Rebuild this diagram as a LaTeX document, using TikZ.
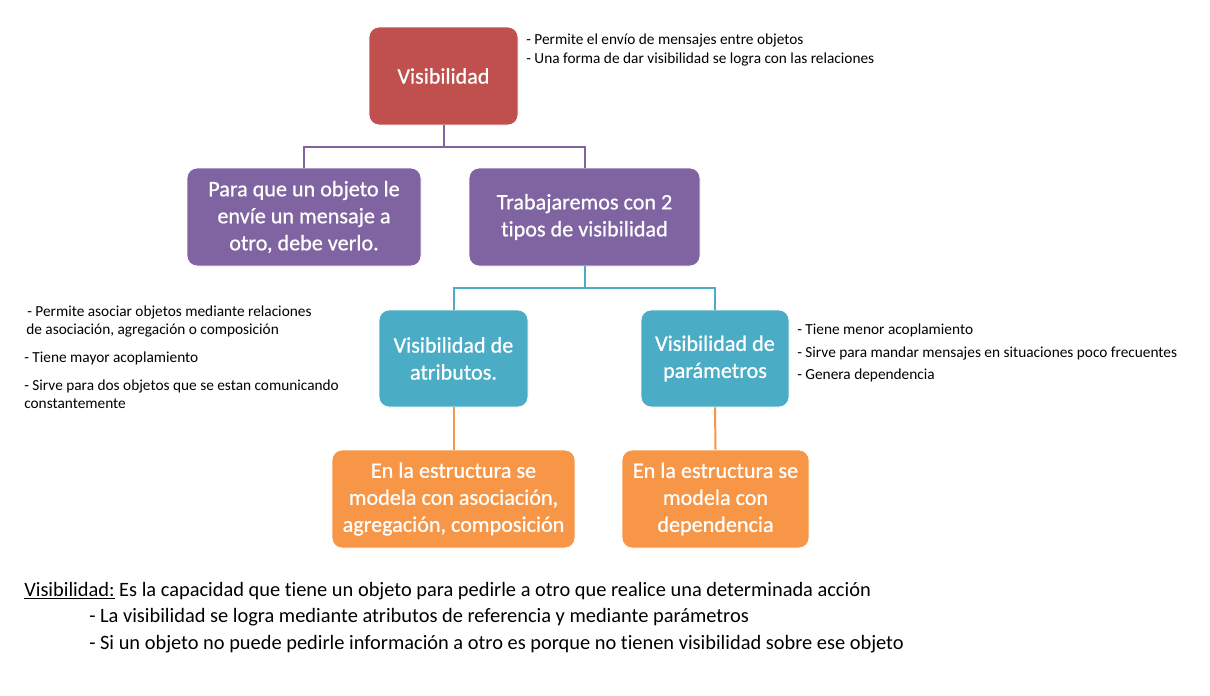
\documentclass[tikz,border=0pt]{standalone}
\usepackage{fontspec}
\setmainfont{Carlito}[Ligatures={NoCommon}]
\newfontfamily\boxfont{Carlito}[Ligatures={NoCommon},FakeBold=0.7]
\definecolor{cred}{HTML}{C0504D}
\definecolor{cpur}{HTML}{8064A2}
\definecolor{cteal}{HTML}{4BACC6}
\definecolor{corg}{HTML}{F79646}
\begin{document}
\begin{tikzpicture}[x=0.75pt,y=-0.75pt,
  box/.style={rounded corners=7.5pt,draw=white,line width=0.6pt,text=white,align=center,inner sep=0pt,
    font=\boxfont\fontsize{16.6}{20.25}\selectfont},
  note/.style={anchor=west,inner sep=0pt,font=\fontsize{11.5}{13.5}\selectfont},
  bnote/.style={anchor=west,inner sep=0pt,font=\fontsize{15.3}{18}\selectfont},
  conn/.style={line width=1.5pt}]
\useasboundingbox (0,0) rectangle (1210,696);
\node[box,fill=cred,minimum width=149*0.75pt,minimum height=98*0.75pt] (vis) at (443.5,76) {Visibilidad};
\node[box,fill=cpur,minimum width=234*0.75pt,minimum height=98*0.75pt] (p1) at (304,217) {Para que un objeto le\\envíe un mensaje a\\otro, debe verlo.};
\node[box,fill=cpur,minimum width=231*0.75pt,minimum height=98*0.75pt] (p2) at (584.5,217) {Trabajaremos con 2\\tipos de visibilidad};
\node[box,fill=cteal,minimum width=149*0.75pt,minimum height=97*0.75pt] (t1) at (453.5,358.5) {Visibilidad de\\atributos.};
\node[box,fill=cteal,minimum width=148*0.75pt,minimum height=97*0.75pt] (t2) at (715,358.5) {Visibilidad de\\parámetros};
\node[box,fill=corg,minimum width=243*0.75pt,minimum height=98*0.75pt] (o1) at (453.5,499) {En la estructura se\\modela con asociación,\\agregación, composición};
\node[box,fill=corg,minimum width=187*0.75pt,minimum height=98*0.75pt] (o2) at (715.5,499) {En la estructura se\\modela con\\dependencia};
\coordinate (j1) at (443.5,147);
\coordinate (j2) at (584.5,288);
\draw[conn,cpur] (vis.south) -- (j1) -| (p1.north);
\draw[conn,cpur] (j1) -| (p2.north);
\draw[conn,cteal] (p2.south) -- (j2) -| (t1.north);
\draw[conn,cteal] (j2) -| (t2.north);
\draw[conn,corg] (t1.south) -- (o1.north);
\draw[conn,corg] (t2.south) -- (o2.north);
% annotations
\node[note] (a1) at (526,40) {- Permite el envío de mensajes entre objetos};
\node[note] (a2) at (526,59) {- Una forma de dar visibilidad se logra con las relaciones};
\node[note] (b1) at (27,312) {- Permite asociar objetos mediante relaciones};
\node[note] (b2) at (26,330) {de asociación, agregación o composición};
\node[note] (b3) at (24,358) {- Tiene mayor acoplamiento};
\node[note] (b4) at (24,386) {- Sirve para dos objetos que se estan comunicando};
\node[note] (b5) at (24,404) {constantemente};
\node[note] (c1) at (797,330) {- Tiene menor acoplamiento};
\node[note] (c2) at (797,353) {- Sirve para mandar mensajes en situaciones poco frecuentes};
\node[note] (c3) at (797,375) {- Genera dependencia};
\node[bnote] (d1) at (24,591) {\underline{Visibilidad:} Es la capacidad que tiene un objeto para pedirle a otro que realice una determinada acción};
\node[bnote] (d2) at (89,617) {- La visibilidad se logra mediante atributos de referencia y mediante parámetros};
\node[bnote] (d3) at (89,644) {- Si un objeto no puede pedirle información a otro es porque no tienen visibilidad sobre ese objeto};
\end{tikzpicture}
\end{document}
